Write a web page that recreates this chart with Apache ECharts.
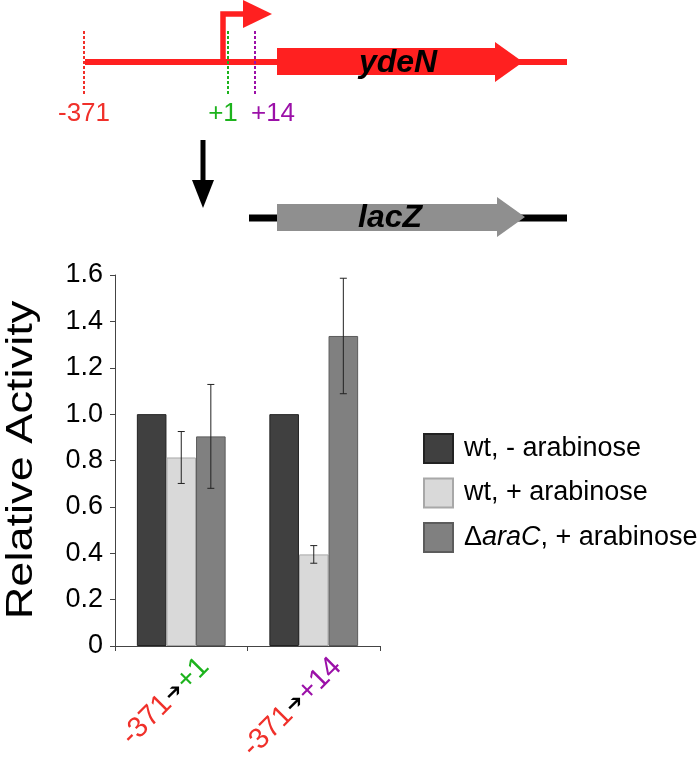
<!DOCTYPE html>
<html>
<head>
<meta charset="utf-8">
<script src="https://cdn.jsdelivr.net/npm/echarts@6/dist/echarts.min.js"></script>
<style>
html,body{margin:0;padding:0;background:#fff;}
#chart{width:700px;height:759px;}
</style>
</head>
<body>
<div id="chart"></div>
<script>
// ---- data ----
var categories = ['-371\u2192+1', '-371\u2192+14'];
var seriesNames = ['wt, - arabinose', 'wt, + arabinose', '\u0394araC, + arabinose'];
var wtMinus = [1.0, 1.0];
var wtPlus = [0.813, 0.395];
var araCPlus = [0.904, 1.337];
var wtMinusErr = [0, 0];
var wtPlusErr = [0.112, 0.038];
var araCPlusErr = [0.224, 0.249];
var yTicks = [0, 0.2, 0.4, 0.6, 0.8, 1.0, 1.2, 1.4, 1.6];

var FONT = 'Liberation Sans, Arial, sans-serif';
var RED = '#ff2020';
var LRED = '#f0302a';
var GREEN = '#1db31d';
var PURPLE = '#9b10a8';

var values = [wtMinus, wtPlus, araCPlus];
var errs = [wtMinusErr, wtPlusErr, araCPlusErr];
var errData = [];
for (var s = 0; s < 3; s++) {
  for (var c = 0; c < categories.length; c++) {
    if (errs[s][c] > 0) errData.push([c, values[s][c], errs[s][c], s]);
  }
}
var CAT_GAP = 0.33;

var chart = echarts.init(document.getElementById('chart'));
var option = {
  animation: false,
  backgroundColor: '#fff',
  textStyle: { fontFamily: FONT },
  grid: { left: 115, right: 320, top: 275, bottom: 113, containLabel: false, outerBoundsMode: 'none' },
  legend: {
    orient: 'vertical',
    left: 423, top: 433, padding: 0,
    itemWidth: 29, itemHeight: 29, itemGap: 13.5,
    icon: 'rect',
    data: seriesNames,
    textStyle: {
      fontSize: 27, color: '#000', fontFamily: FONT, padding: [0, 0, 0, 6],
      rich: {
        n: { fontSize: 27, color: '#000', fontFamily: FONT },
        i: { fontSize: 27, color: '#000', fontFamily: FONT, fontStyle: 'italic' }
      }
    },
    formatter: function (name) {
      if (name.indexOf('araC') >= 0) return '{n|\u0394}{i|araC}{n|, + arabinose}';
      return '{n|' + name + '}';
    }
  },
  xAxis: {
    type: 'category',
    data: categories,
    axisLine: { lineStyle: { color: '#444', width: 1 } },
    axisTick: { show: true, length: 5, lineStyle: { color: '#444' } },
    axisLabel: {
      rotate: 45,
      margin: -7,
      interval: 0,
      verticalAlign: 'top',
      lineHeight: 28,
      padding: [19, 0, 0, 0],
      formatter: function (v, idx) {
        var p = v.split('\u2192');
        var tag = idx === 0 ? 'g' : 'p';
        return '{r|' + p[0] + '}{a|\u2794}{' + tag + '|' + p[1] + '}';
      },
      rich: {
        r: { color: LRED, fontSize: 29, fontFamily: FONT },
        a: { color: '#000', fontSize: 21, fontFamily: 'DejaVu Sans', padding: [0, 1, 0, 1] },
        g: { color: GREEN, fontSize: 29, fontFamily: FONT },
        p: { color: PURPLE, fontSize: 29, fontFamily: FONT }
      }
    }
  },
  yAxis: {
    type: 'value',
    min: 0, max: 1.6, interval: 0.2,
    splitLine: { show: false },
    axisLine: { show: true, lineStyle: { color: '#444', width: 1 } },
    axisTick: { show: true, length: 5, lineStyle: { color: '#444' } },
    axisLabel: {
      fontSize: 27, color: '#000', margin: 12, fontFamily: FONT,
      formatter: function (v) {
        var t = yTicks.reduce(function (a, b) { return Math.abs(b - v) < Math.abs(a - v) ? b : a; });
        return t === 0 ? '0' : t.toFixed(1);
      }
    }
  },
  series: [
    { name: seriesNames[0], type: 'bar', data: wtMinus, barGap: '0%', barCategoryGap: '33%',
      itemStyle: { color: '#404040', borderColor: '#222', borderWidth: 1 } },
    { name: seriesNames[1], type: 'bar', data: wtPlus, barGap: '0%', barCategoryGap: '33%',
      itemStyle: { color: '#d9d9d9', borderColor: '#a8a8a8', borderWidth: 1 } },
    { name: seriesNames[2], type: 'bar', data: araCPlus, barGap: '0%', barCategoryGap: '33%',
      itemStyle: { color: '#808080', borderColor: '#5c5c5c', borderWidth: 1 } },
    {
      name: 'error', type: 'custom', data: errData, z: 10,
      renderItem: function (params, api) {
        var c = api.value(0), v = api.value(1), e = api.value(2), s = api.value(3);
        var band = api.size([1, 0])[0];
        var bw = band * (1 - CAT_GAP) / 3;
        var x = api.coord([c, v])[0] + (s - 1) * bw;
        var yh = api.coord([c, v + e])[1];
        var yl = api.coord([c, v - e])[1];
        var cap = 3.5;
        var st = { stroke: '#222', lineWidth: 1 };
        return {
          type: 'group',
          children: [
            { type: 'line', shape: { x1: x, y1: yh, x2: x, y2: yl }, style: st },
            { type: 'line', shape: { x1: x - cap, y1: yh, x2: x + cap, y2: yh }, style: st },
            { type: 'line', shape: { x1: x - cap, y1: yl, x2: x + cap, y2: yl }, style: st }
          ]
        };
      }
    }
  ],
  graphic: [
    // y axis title
    { type: 'text', x: 22, y: 460, rotation: Math.PI / 2, scaleX: 1.22,
      style: { text: 'Relative Activity', fontSize: 37, fontFamily: FONT, fill: '#000',
               textAlign: 'center', textVerticalAlign: 'middle' } },
    // gene diagram
    { type: 'line', shape: { x1: 85, y1: 62, x2: 567, y2: 62 }, style: { stroke: RED, lineWidth: 6 } },
    { type: 'polygon', shape: { points: [[277, 48], [495, 48], [495, 42], [523, 62], [495, 82], [495, 75], [277, 75]] },
      style: { fill: RED } },
    { type: 'text', x: 398, y: 63, style: { text: 'ydeN', fontSize: 32, fontWeight: 'bold', fontStyle: 'italic',
      fontFamily: FONT, fill: '#000', textAlign: 'center', textVerticalAlign: 'middle' } },
    { type: 'polyline', shape: { points: [[223, 62], [223, 14], [246, 14]] },
      style: { stroke: RED, lineWidth: 5.5, fill: null, lineJoin: 'miter', lineCap: 'butt' } },
    { type: 'polygon', shape: { points: [[243, 0], [272, 14], [243, 28]] }, style: { fill: RED } },
    { type: 'line', shape: { x1: 84, y1: 31, x2: 84, y2: 95 }, style: { stroke: LRED, lineWidth: 2, lineDash: [3, 2] } },
    { type: 'line', shape: { x1: 228, y1: 31, x2: 228, y2: 95 }, style: { stroke: GREEN, lineWidth: 2, lineDash: [3, 2] } },
    { type: 'line', shape: { x1: 255, y1: 31, x2: 255, y2: 95 }, style: { stroke: PURPLE, lineWidth: 2, lineDash: [3, 2] } },
    { type: 'text', x: 84, y: 114, style: { text: '-371', fontSize: 26, fontFamily: FONT, fill: LRED,
      textAlign: 'center', textVerticalAlign: 'middle' } },
    { type: 'text', x: 223, y: 114, style: { text: '+1', fontSize: 26, fontFamily: FONT, fill: GREEN,
      textAlign: 'center', textVerticalAlign: 'middle' } },
    { type: 'text', x: 273, y: 114, style: { text: '+14', fontSize: 26, fontFamily: FONT, fill: PURPLE,
      textAlign: 'center', textVerticalAlign: 'middle' } },
    { type: 'line', shape: { x1: 203, y1: 140, x2: 203, y2: 182 }, style: { stroke: '#000', lineWidth: 5 } },
    { type: 'polygon', shape: { points: [[192, 180], [214, 180], [203, 208]] }, style: { fill: '#000' } },
    { type: 'line', shape: { x1: 249, y1: 218, x2: 567, y2: 218 }, style: { stroke: '#000', lineWidth: 7 } },
    { type: 'polygon', shape: { points: [[277, 204], [497, 204], [497, 197], [525, 217], [497, 237], [497, 231], [277, 231]] },
      style: { fill: '#8f8f8f' } },
    { type: 'text', x: 390, y: 218, style: { text: 'lacZ', fontSize: 32, fontWeight: 'bold', fontStyle: 'italic',
      fontFamily: FONT, fill: '#000', textAlign: 'center', textVerticalAlign: 'middle' } }
  ]
};
chart.setOption(option);
</script>
</body>
</html>
